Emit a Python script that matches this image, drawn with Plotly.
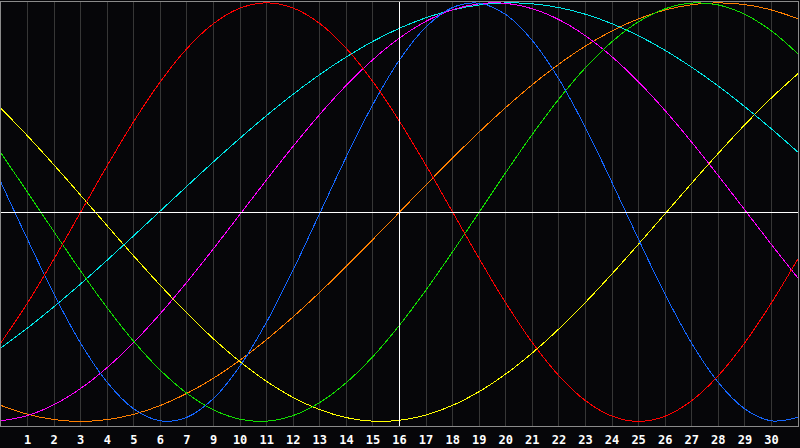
import plotly.graph_objects as go

days = list(range(0, 31))

red = [-0.6235, -0.4339, -0.2225, 0.0, 0.2225, 0.4339, 0.6235, 0.7818, 0.9010, 0.9749,
       1.0, 0.9749, 0.9010, 0.7818, 0.6235, 0.4339, 0.2225, 0.0, -0.2225, -0.4339,
       -0.6235, -0.7818, -0.9010, -0.9749, -1.0, -0.9749, -0.9010, -0.7818, -0.6235, -0.4339,
       -0.2225]
green = [0.2817, 0.0950, -0.0950, -0.2817, -0.4582, -0.6182, -0.7557, -0.8660, -0.9450, -0.9898,
         -0.9989, -0.9718, -0.9096, -0.8146, -0.6901, -0.5406, -0.3717, -0.1893, 0.0, 0.1893,
         0.3717, 0.5406, 0.6901, 0.8146, 0.9096, 0.9718, 0.9989, 0.9898, 0.9450, 0.8660,
         0.7557]
blue = [0.1416, -0.1307, -0.3934, -0.6268, -0.8138, -0.9404, -0.9973, -0.9802, -0.8904, -0.7346,
        -0.5244, -0.2751, -0.0054, 0.2646, 0.5148, 0.7271, 0.8853, 0.9780, 0.9980, 0.9441,
        0.8200, 0.6355, 0.4034, 0.1414, -0.1309, -0.3935, -0.6269, -0.8140, -0.9405, -0.9973,
        -0.9801]
yellow = [0.4958, 0.3640, 0.2246, 0.0802, -0.0658, -0.2103, -0.3504, -0.4830, -0.6056, -0.7150,
          -0.8090, -0.8860, -0.9440, -0.9820, -0.9990, -0.9948, -0.9693, -0.9232, -0.8574, -0.7733,
          -0.6727, -0.5578, -0.4312, -0.2950, -0.1528, -0.0073, 0.1383, 0.2810, 0.4179, 0.5457,
          0.6618]
cyan = [-0.6483, -0.5537, -0.4514, -0.3427, -0.2291, -0.1123, 0.0059, 0.1241, 0.2406, 0.3537,
        0.4619, 0.5635, 0.6574, 0.7415, 0.8159, 0.8786, 0.9289, 0.9662, 0.9899, 0.9997,
        0.9955, 0.9773, 0.9454, 0.9002, 0.8425, 0.7727, 0.6922, 0.6022, 0.5034, 0.3977,
        0.2864]
magenta = [-0.9974, -0.9718, -0.9197, -0.8425, -0.7424, -0.6222, -0.4847, -0.3341, -0.1744, -0.0099,
           0.1549, 0.3153, 0.4672, 0.6062, 0.7290, 0.8317, 0.9118, 0.9669, 0.9957, 0.9974,
           0.9718, 0.9197, 0.8426, 0.7422, 0.6220, 0.4846, 0.3341, 0.1744, 0.0099, -0.1549,
           -0.3153]
orange = [-0.9239, -0.9659, -0.9914, -1.0, -0.9914, -0.9659, -0.9239, -0.8660, -0.7934, -0.7071,
          -0.6088, -0.5, -0.3827, -0.2588, -0.1305, 0.0, 0.1305, 0.2588, 0.3827, 0.5,
          0.6088, 0.7071, 0.7934, 0.8660, 0.9239, 0.9659, 0.9914, 1.0, 0.9914, 0.9659,
          0.9239]

tick_positions = list(range(1, 30))
tick_labels = ["1", "2", "3", "4", "5", "6", "7", "9", "10", "11", "12", "13", "14", "15",
               "16", "17", "18", "19", "20", "21", "22", "23", "24", "25", "26", "27", "28",
               "29", "30"]
today = 15

series = [
    (orange, "#ff7f00"),
    (yellow, "#ffff00"),
    (cyan, "#00e8e8"),
    (magenta, "#ff00ff"),
    (green, "#11dd00"),
    (blue, "#1466ff"),
    (red, "#ff0000"),
]

fig = go.Figure()
for vals, col in series:
    fig.add_trace(go.Scatter(x=days, y=vals, mode="lines",
                             line=dict(color=col, width=1, shape="spline", smoothing=1),
                             hoverinfo="skip", showlegend=False))

fig.add_shape(type="line", xref="x", yref="paper", x0=today, x1=today, y0=0, y1=1,
              line=dict(color="#ffffff", width=1), layer="above")
fig.add_shape(type="line", xref="paper", yref="y", x0=0, x1=1, y0=0, y1=0,
              line=dict(color="#ffffff", width=1), layer="above")

fig.update_layout(
    width=800, height=448,
    margin=dict(l=1, r=1, t=1, b=20),
    paper_bgcolor="#060609",
    plot_bgcolor="#060609",
    showlegend=False,
    xaxis=dict(range=[0, 30], tickvals=tick_positions, ticktext=tick_labels,
               showgrid=True, gridcolor="#363636", gridwidth=1, zeroline=False,
               showline=True, mirror=True, linecolor="#8a8a8a", linewidth=1,
               ticks="", ticklabelstandoff=3,
               tickfont=dict(family="DejaVu Sans Mono", size=12, color="#ffffff",
                             weight="bold")),
    yaxis=dict(range=[-1.022, 1.004], showgrid=False, zeroline=False,
               showline=True, mirror=True, linecolor="#8a8a8a", linewidth=1,
               showticklabels=False, ticks=""),
)

post = """
document.body.style.margin = '0';
document.body.style.padding = '0';
document.body.style.background = '#060609';
document.body.style.overflow = 'hidden';
document.querySelectorAll('svg path').forEach(function(p){ p.style.shapeRendering = 'crispEdges'; });
"""

fig.write_html("out.html", post_script=post, config={"displayModeBar": False, "staticPlot": True})
